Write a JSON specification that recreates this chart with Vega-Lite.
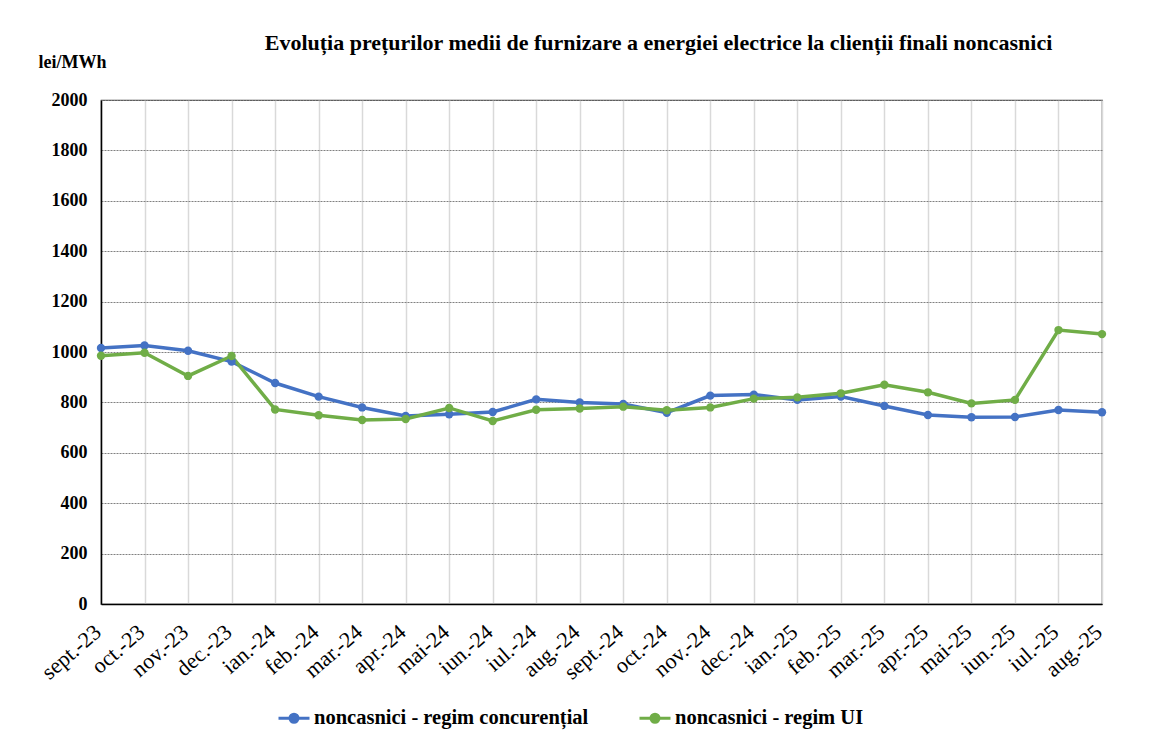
{
  "$schema": "https://vega.github.io/schema/vega-lite/v6.json",
  "width": 1001,
  "height": 504,
  "autosize": "none",
  "padding": {"left": 101, "top": 100, "right": 48, "bottom": 149},
  "background": "white",
  "title": {
    "text": "Evoluția prețurilor medii de furnizare a energiei electrice la clienții finali noncasnici",
    "font": "Liberation Serif",
    "fontSize": 22,
    "fontWeight": "bold",
    "color": "#000000",
    "anchor": "middle",
    "dx": 57,
    "offset": -2
  },
  "data": {
    "values": [
      {"luna": "sept.-23", "serie": "noncasnici - regim concurențial", "valoare": 1016},
      {"luna": "oct.-23", "serie": "noncasnici - regim concurențial", "valoare": 1026},
      {"luna": "nov.-23", "serie": "noncasnici - regim concurențial", "valoare": 1005},
      {"luna": "dec.-23", "serie": "noncasnici - regim concurențial", "valoare": 962},
      {"luna": "ian.-24", "serie": "noncasnici - regim concurențial", "valoare": 877},
      {"luna": "feb.-24", "serie": "noncasnici - regim concurențial", "valoare": 823},
      {"luna": "mar.-24", "serie": "noncasnici - regim concurențial", "valoare": 780},
      {"luna": "apr.-24", "serie": "noncasnici - regim concurențial", "valoare": 746},
      {"luna": "mai-24", "serie": "noncasnici - regim concurențial", "valoare": 753},
      {"luna": "iun.-24", "serie": "noncasnici - regim concurențial", "valoare": 762},
      {"luna": "iul.-24", "serie": "noncasnici - regim concurențial", "valoare": 812},
      {"luna": "aug.-24", "serie": "noncasnici - regim concurențial", "valoare": 800},
      {"luna": "sept.-24", "serie": "noncasnici - regim concurențial", "valoare": 794},
      {"luna": "oct.-24", "serie": "noncasnici - regim concurențial", "valoare": 759},
      {"luna": "nov.-24", "serie": "noncasnici - regim concurențial", "valoare": 827},
      {"luna": "dec.-24", "serie": "noncasnici - regim concurențial", "valoare": 831},
      {"luna": "ian.-25", "serie": "noncasnici - regim concurențial", "valoare": 810},
      {"luna": "feb.-25", "serie": "noncasnici - regim concurențial", "valoare": 823},
      {"luna": "mar.-25", "serie": "noncasnici - regim concurențial", "valoare": 786},
      {"luna": "apr.-25", "serie": "noncasnici - regim concurențial", "valoare": 750},
      {"luna": "mai-25", "serie": "noncasnici - regim concurențial", "valoare": 741},
      {"luna": "iun.-25", "serie": "noncasnici - regim concurențial", "valoare": 742},
      {"luna": "iul.-25", "serie": "noncasnici - regim concurențial", "valoare": 770},
      {"luna": "aug.-25", "serie": "noncasnici - regim concurențial", "valoare": 761},
      {"luna": "sept.-23", "serie": "noncasnici - regim UI", "valoare": 985},
      {"luna": "oct.-23", "serie": "noncasnici - regim UI", "valoare": 997},
      {"luna": "nov.-23", "serie": "noncasnici - regim UI", "valoare": 905},
      {"luna": "dec.-23", "serie": "noncasnici - regim UI", "valoare": 984},
      {"luna": "ian.-24", "serie": "noncasnici - regim UI", "valoare": 772},
      {"luna": "feb.-24", "serie": "noncasnici - regim UI", "valoare": 749},
      {"luna": "mar.-24", "serie": "noncasnici - regim UI", "valoare": 730},
      {"luna": "apr.-24", "serie": "noncasnici - regim UI", "valoare": 734},
      {"luna": "mai-24", "serie": "noncasnici - regim UI", "valoare": 778},
      {"luna": "iun.-24", "serie": "noncasnici - regim UI", "valoare": 726},
      {"luna": "iul.-24", "serie": "noncasnici - regim UI", "valoare": 771},
      {"luna": "aug.-24", "serie": "noncasnici - regim UI", "valoare": 776},
      {"luna": "sept.-24", "serie": "noncasnici - regim UI", "valoare": 783},
      {"luna": "oct.-24", "serie": "noncasnici - regim UI", "valoare": 769},
      {"luna": "nov.-24", "serie": "noncasnici - regim UI", "valoare": 780},
      {"luna": "dec.-24", "serie": "noncasnici - regim UI", "valoare": 815},
      {"luna": "ian.-25", "serie": "noncasnici - regim UI", "valoare": 820},
      {"luna": "feb.-25", "serie": "noncasnici - regim UI", "valoare": 836},
      {"luna": "mar.-25", "serie": "noncasnici - regim UI", "valoare": 870},
      {"luna": "apr.-25", "serie": "noncasnici - regim UI", "valoare": 840},
      {"luna": "mai-25", "serie": "noncasnici - regim UI", "valoare": 796},
      {"luna": "iun.-25", "serie": "noncasnici - regim UI", "valoare": 810},
      {"luna": "iul.-25", "serie": "noncasnici - regim UI", "valoare": 1087},
      {"luna": "aug.-25", "serie": "noncasnici - regim UI", "valoare": 1071}
    ]
  },
  "mark": {"type": "line", "strokeWidth": 3.5, "point": {"size": 70, "filled": true}},
  "encoding": {
    "x": {
      "field": "luna",
      "type": "ordinal",
      "sort": null,
      "scale": {"type": "point", "padding": 0},
      "axis": {
        "title": null,
        "labelAngle": -41,
        "labelAlign": "right",
        "labelBaseline": "top",
        "labelFont": "Liberation Serif",
        "labelFontSize": 22,
        "labelColor": "#000000",
        "labelPadding": 17,
        "labelOffset": -10,
        "ticks": false,
        "domainColor": "#000000",
        "domainWidth": 1.5,
        "grid": true,
        "gridColor": "#d9d9d9",
        "gridWidth": 1.5
      }
    },
    "y": {
      "field": "valoare",
      "type": "quantitative",
      "scale": {"domain": [0, 2000], "nice": false},
      "axis": {
        "values": [0, 200, 400, 600, 800, 1000, 1200, 1400, 1600, 1800, 2000],
        "format": "d",
        "title": "lei/MWh",
        "titleAngle": 0,
        "titleX": -29,
        "titleY": -33,
        "titleAlign": "center",
        "titleBaseline": "alphabetic",
        "titleFont": "Liberation Serif",
        "titleFontSize": 18,
        "titleFontWeight": "bold",
        "titleColor": "#000000",
        "labelFont": "Liberation Serif",
        "labelFontSize": 18,
        "labelFontWeight": "bold",
        "labelColor": "#000000",
        "labelPadding": 14,
        "ticks": false,
        "domainColor": "#000000",
        "domainWidth": 1.5,
        "grid": true,
        "gridColor": "#808080",
        "gridDash": [2, 1],
        "gridWidth": 1
      }
    },
    "color": {
      "field": "serie",
      "type": "nominal",
      "scale": {
        "domain": ["noncasnici - regim concurențial", "noncasnici - regim UI"],
        "range": ["#4472C4", "#70AD47"]
      },
      "legend": {
        "title": null,
        "orient": "none",
        "direction": "horizontal",
        "legendX": 176,
        "legendY": 601,
        "labelFont": "Liberation Serif",
        "labelFontSize": 20.5,
        "labelFontWeight": "bold",
        "labelColor": "#000000",
        "labelLimit": 400,
        "labelOffset": 3,
        "columnPadding": 44,
        "symbolType": "M -1 0 L 1 0 M -0.26 0 A 0.26 0.26 0 1 0 0.26 0 A 0.26 0.26 0 1 0 -0.26 0",
        "symbolSize": 961,
        "symbolStrokeWidth": 3,
        "encoding": {
          "symbols": {"update": {"fill": {"scale": "color", "field": "value"}, "fillOpacity": {"value": 1}}}
        }
      }
    }
  },
  "config": {
    "view": {"stroke": "#404040", "strokeWidth": 1.2}
  }
}
